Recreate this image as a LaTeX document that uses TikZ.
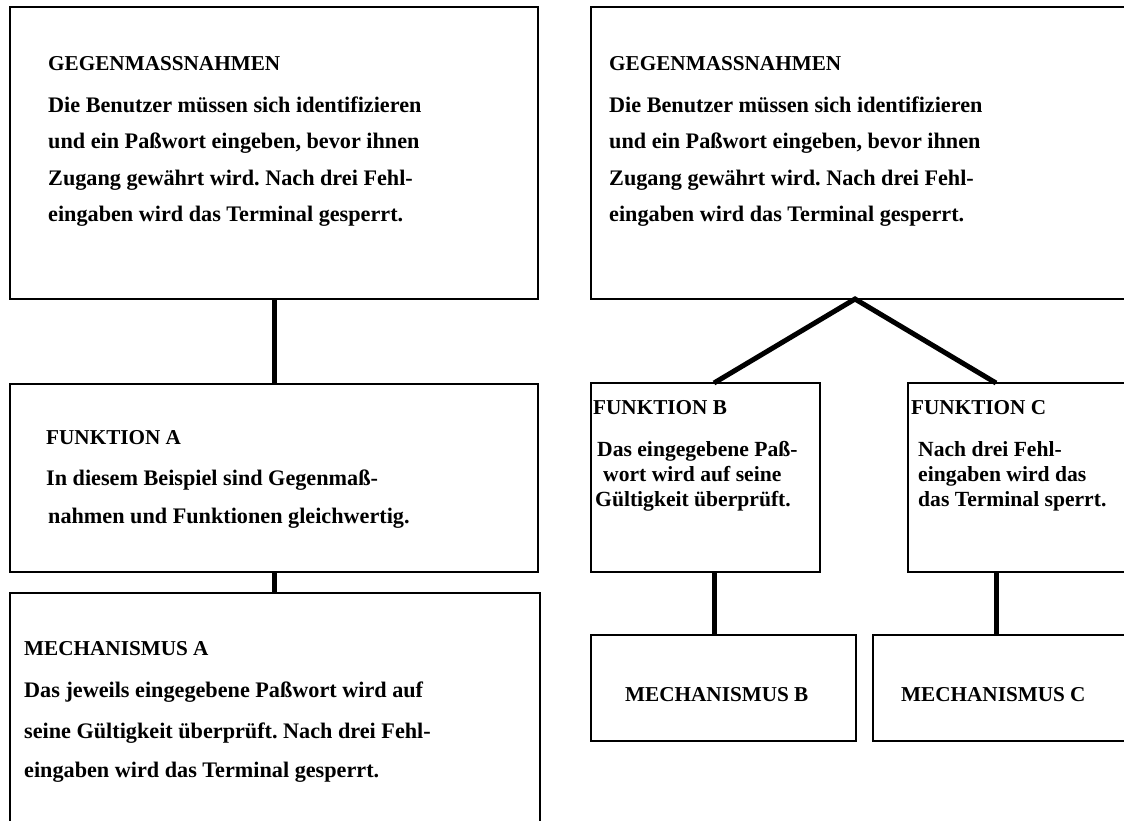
\documentclass[tikz,border=0pt]{standalone}
\usepackage{fontspec}
\setmainfont{Liberation Serif}
\usetikzlibrary{calc}
\frenchspacing
\begin{document}
\begin{tikzpicture}[x=1pt,y=-1pt,
  box/.style={draw, line width=2.6pt, rectangle, anchor=north west, inner sep=0pt, outer sep=0pt},
  conn/.style={line width=5pt, line join=miter},
  head/.style={anchor=base west, inner sep=0pt, font=\bfseries\fontsize{21.2}{25}\selectfont},
  body/.style={anchor=base west, inner sep=0pt, font=\bfseries\fontsize{22.2}{26}\selectfont},
  smallbody/.style={anchor=base west, inner sep=0pt, font=\bfseries\fontsize{21.6}{26}\selectfont},
]
\useasboundingbox (0,0) rectangle (1124,820);
\clip (0,0) rectangle (1124,820);

% boxes
\node[box, minimum width=528pt, minimum height=292pt] (gl) at (10,7) {};
\node[box, minimum width=560pt, minimum height=292pt] (gr) at (591,7) {};
\node[box, minimum width=528pt, minimum height=188pt] (fa) at (10,384) {};
\node[box, minimum width=530pt, minimum height=260pt] (ma) at (10,593) {};
\node[box, minimum width=229pt, minimum height=189pt] (fb) at (591,383) {};
\node[box, minimum width=250pt, minimum height=189pt] (fc) at (908,383) {};
\node[box, minimum width=265pt, minimum height=106pt] (mb) at (591,635) {};
\node[box, minimum width=280pt, minimum height=106pt] (mc) at (873,635) {};

% connectors
\draw[conn] (gl.south) -- (fa.north);
\draw[conn] (fa.south) -- (fa.south |- ma.north);
\coordinate (apex) at ([xshift=264pt]gr.south west);
\coordinate (bt) at ([xshift=123pt]fb.north west);
\coordinate (ct) at ([xshift=88pt]fc.north west);
\draw[conn] (bt) -- (apex) -- (ct);
\draw[conn] ([xshift=123pt]fb.south west) -- ([xshift=123pt]fb.south west |- mb.north);
\draw[conn] ([xshift=88pt]fc.south west) -- ([xshift=88pt]fc.south west |- mc.north);

% Gegenmassnahmen, left
\node[head] (glh) at (48,70) {GEGENMASSNAHMEN};
\node[body] (gl1) at (48,112) {Die Benutzer müssen sich identifizieren};
\node[body] (gl2) at (48,148) {und ein Paßwort eingeben, bevor ihnen};
\node[body] (gl3) at (48,185) {Zugang gewährt wird. Nach drei Fehl-};
\node[body] (gl4) at (48,221) {eingaben wird das Terminal gesperrt.};

% Gegenmassnahmen, right
\node[head] (grh) at (609,70) {GEGENMASSNAHMEN};
\node[body] (gr1) at (609,112) {Die Benutzer müssen sich identifizieren};
\node[body] (gr2) at (609,148) {und ein Paßwort eingeben, bevor ihnen};
\node[body] (gr3) at (609,185) {Zugang gewährt wird. Nach drei Fehl-};
\node[body] (gr4) at (609,221) {eingaben wird das Terminal gesperrt.};

% Funktion A
\node[head] (fah) at (46,444) {FUNKTION A};
\node[body] (fa1) at (46,485) {In diesem Beispiel sind Gegenmaß-};
\node[body] (fa2) at (48,523) {nahmen und Funktionen gleichwertig.};

% Mechanismus A
\node[head] (mah) at (24,655) {MECHANISMUS A};
\node[body] (ma1) at (24,697) {Das jeweils eingegebene Paßwort wird auf};
\node[body] (ma2) at (24,738) {seine Gültigkeit überprüft. Nach drei Fehl-};
\node[body] (ma3) at (24,777) {eingaben wird das Terminal gesperrt.};

% Funktion B
\node[head] (fbh) at (593,414) {FUNKTION B};
\node[smallbody] (fb1) at (597,456) {Das eingegebene Paß-};
\node[smallbody] (fb2) at (603,481) {wort wird auf seine};
\node[smallbody] (fb3) at (595,506) {Gültigkeit überprüft.};

% Funktion C
\node[head] (fch) at (911,414) {FUNKTION C};
\node[smallbody] (fc1) at (918,456) {Nach drei Fehl-};
\node[smallbody] (fc2) at (918,481) {eingaben wird das};
\node[smallbody] (fc3) at (918,506) {das Terminal sperrt.};

% Mechanismen B and C
\node[head] (mbh) at (625,701) {MECHANISMUS B};
\node[head] (mch) at (901,701) {MECHANISMUS C};
\end{tikzpicture}
\end{document}
